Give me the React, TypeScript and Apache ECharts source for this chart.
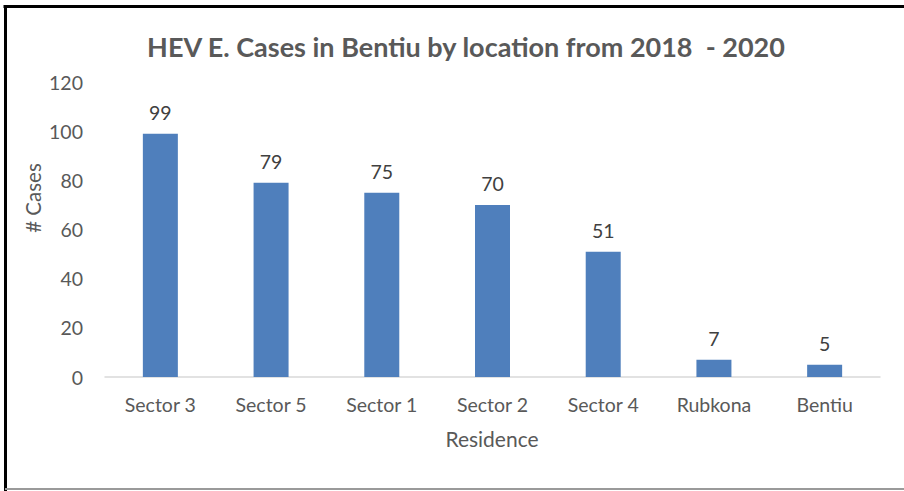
import React, { useEffect, useRef } from "react";
import * as echarts from "echarts";

const categories = ["Sector 3", "Sector 5", "Sector 1", "Sector 2", "Sector 4", "Rubkona", "Bentiu"];
const cases = [99, 79, 75, 70, 51, 7, 5];
const titleText = "HEV E. Cases in Bentiu by location from 2018  - 2020";
const yAxisName = "# Cases";
const xAxisName = "Residence";

const FONT = "Lato, 'Open Sans', sans-serif";

export default function App() {
  const ref = useRef<HTMLDivElement>(null);
  useEffect(() => {
    document.body.style.margin = "0";
    const chart = echarts.init(ref.current!, null, { renderer: "svg" });
    chart.setOption({
      animation: false,
      backgroundColor: "#ffffff",
      title: {
        text: titleText,
        left: 461,
        textAlign: "center",
        top: 28,
        textStyle: { fontFamily: FONT, fontSize: 27, fontWeight: "bold", color: "#595959" },
      },
      grid: { left: 105, right: 24, top: 82, bottom: 114, containLabel: false },
      xAxis: {
        type: "category",
        data: categories,
        axisLine: { lineStyle: { color: "#d9d9d9", width: 1.5 } },
        axisTick: { show: false },
        axisLabel: { fontFamily: FONT, fontSize: 19.5, color: "#595959", margin: 17 },
      },
      yAxis: {
        type: "value",
        min: 0,
        max: 120,
        interval: 20,
        splitLine: { show: false },
        axisLine: { show: false },
        axisTick: { show: false },
        axisLabel: { fontFamily: FONT, fontSize: 19.5, color: "#595959", margin: 22 },
      },
      graphic: [
        { type: "rect", shape: { x: 3.5, y: 5, width: 910, height: 3 }, style: { fill: "#000" } },
        { type: "rect", shape: { x: 4, y: 5, width: 3, height: 490 }, style: { fill: "#000" } },
        { type: "rect", shape: { x: 5, y: 488, width: 900, height: 2 }, style: { fill: "#9a9a9a" } },
        {
          type: "text",
          x: 33,
          y: 198,
          rotation: Math.PI / 2,
          style: {
            text: yAxisName,
            fontFamily: FONT,
            fontSize: 20.5,
            fill: "#595959",
            align: "center",
            verticalAlign: "middle",
          },
        },
        {
          type: "text",
          x: 492,
          y: 438,
          style: {
            text: xAxisName,
            fontFamily: FONT,
            fontSize: 21,
            fill: "#595959",
            align: "center",
            verticalAlign: "middle",
          },
        },
      ],
      series: [
        {
          type: "bar",
          data: cases,
          barWidth: 35,
          itemStyle: { color: "#4f7fbc" },
          label: {
            show: true,
            position: "top",
            distance: 11,
            fontFamily: FONT,
            fontSize: 19.5,
            color: "#404040",
          },
        },
      ],
    });
    return () => chart.dispose();
  }, []);
  return <div ref={ref} style={{ position: "fixed", left: 0, top: 0, width: 904, height: 491 }} />;
}
